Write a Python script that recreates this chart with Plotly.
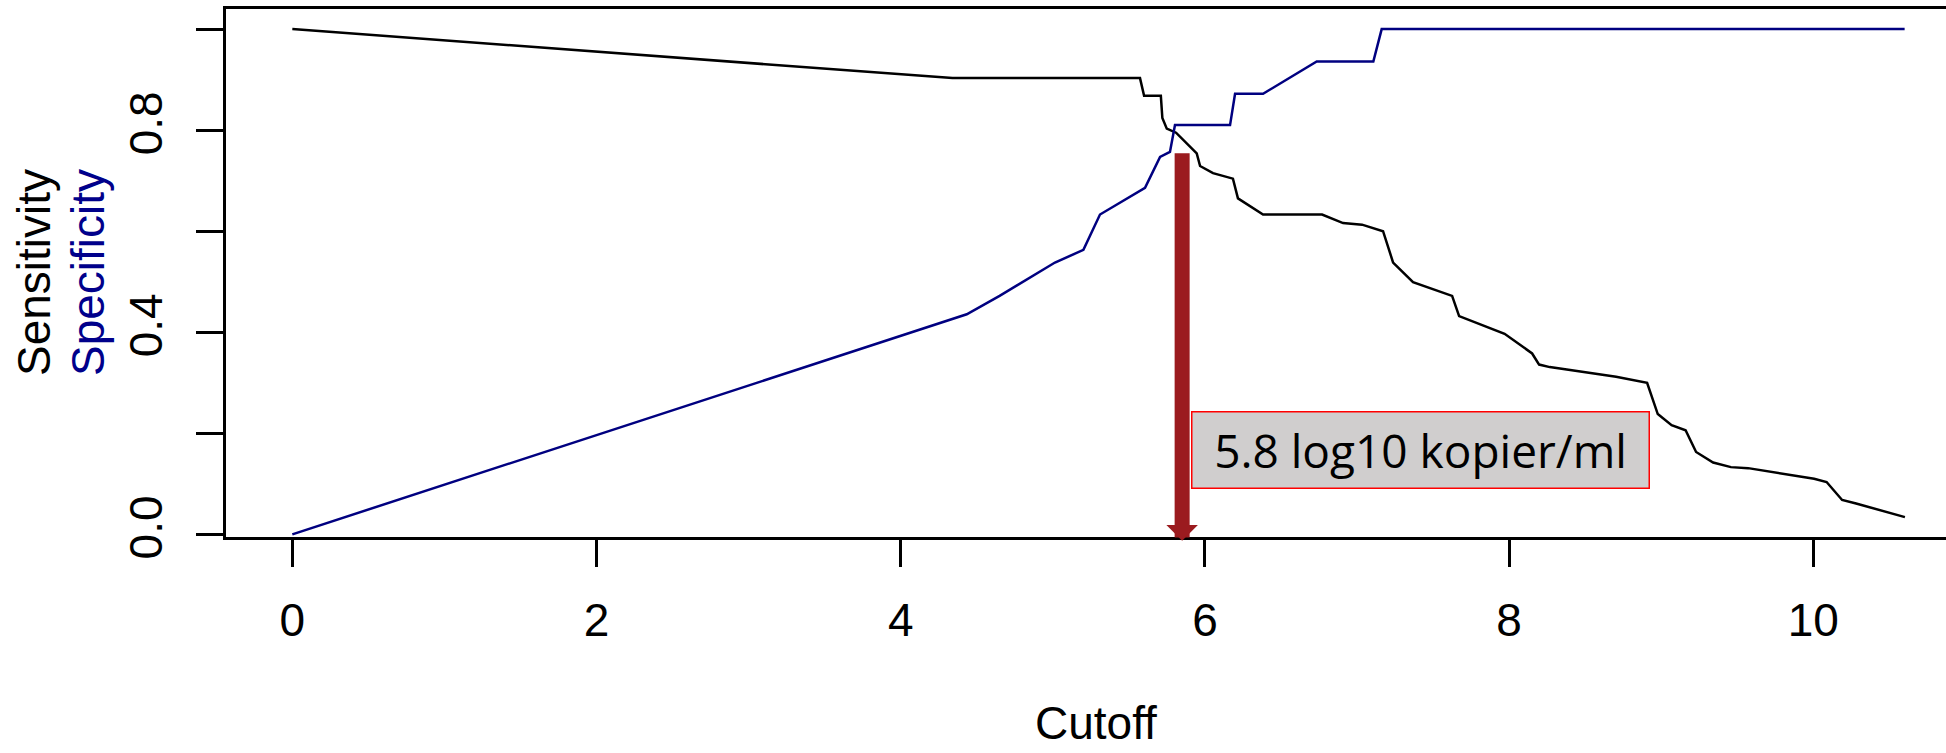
import plotly.graph_objects as go

# ---- data ----
sens_x = [0, 4.34, 5.573, 5.60, 5.71, 5.72, 5.749, 5.81, 5.946, 5.968, 6.053, 6.184, 6.217,
          6.382, 6.770, 6.908, 7.033, 7.171, 7.237, 7.368, 7.625, 7.671, 7.970, 8.151, 8.197,
          8.267, 8.703, 8.907, 8.977, 9.068, 9.160, 9.229, 9.341, 9.458, 9.571, 10.005, 10.087,
          10.189, 10.281, 10.602]
sens_y = [1.0, 0.903, 0.903, 0.868, 0.868, 0.824, 0.803, 0.795, 0.754, 0.729, 0.715, 0.704, 0.665,
          0.633, 0.633, 0.616, 0.613, 0.600, 0.538, 0.499, 0.472, 0.432, 0.397, 0.358, 0.336,
          0.331, 0.312, 0.300, 0.238, 0.216, 0.206, 0.163, 0.142, 0.133, 0.131, 0.110, 0.1035,
          0.068, 0.061, 0.034]

spec_x = [0, 4.434, 4.65, 4.828, 5.014, 5.201, 5.310, 5.606, 5.705, 5.770, 5.803, 6.165, 6.198,
          6.382, 6.735, 7.107, 7.162, 10.60]
spec_y = [0, 0.4355, 0.472, 0.505, 0.538, 0.563, 0.633, 0.686, 0.747, 0.757, 0.810, 0.810, 0.872,
          0.872, 0.936, 0.936, 1.0, 1.0]

x_ticks = [0, 2, 4, 6, 8, 10]
y_ticks = [0.0, 0.2, 0.4, 0.6, 0.8, 1.0]
y_ticktext = ["0.0", "", "0.4", "", "0.8", ""]

cutoff_value = 5.85
arrow_top = 0.757
arrow_tip = -0.0127
label_text = "5.8 log10 kopier/ml"
label_x = 7.42
label_y = 0.166

SENS_COLOR = "black"
SPEC_COLOR = "#000080"
FONT = "Liberation Sans, Arial, sans-serif"

fig = go.Figure()
fig.add_trace(go.Scatter(x=sens_x, y=sens_y, mode="lines",
                         line=dict(color=SENS_COLOR, width=2.5), hoverinfo="skip"))
fig.add_trace(go.Scatter(x=spec_x, y=spec_y, mode="lines",
                         line=dict(color=SPEC_COLOR, width=2.5), hoverinfo="skip"))

# arrow marking the cutoff
fig.add_annotation(x=cutoff_value, y=arrow_tip, ax=cutoff_value, ay=arrow_top,
                   xref="x", yref="y", axref="x", ayref="y", text="",
                   showarrow=True, arrowhead=1, arrowsize=0.35, arrowwidth=15,
                   arrowcolor="#9B1B1F", standoff=0)

# label box
fig.add_annotation(x=label_x, y=label_y, xref="x", yref="y", text=label_text,
                   showarrow=False, font=dict(family="Open Sans, sans-serif", size=46, color="black"),
                   bgcolor="#D0CECE", bordercolor="#FF0000", borderwidth=1.5, borderpad=0,
                   width=456, height=75, align="center", valign="middle")

# x-axis title
fig.add_annotation(x=0.506, y=0, xref="paper", yref="paper", yshift=-158,
                   text="Cutoff", showarrow=False, yanchor="top",
                   font=dict(family=FONT, size=46, color="black"))

# y-axis titles (two coloured lines)
fig.add_annotation(x=0, y=0.5, xref="paper", yref="paper", xshift=-192,
                   text="Sensitivity", showarrow=False, textangle=-90,
                   xanchor="center", yanchor="middle",
                   font=dict(family=FONT, size=46, color=SENS_COLOR))
fig.add_annotation(x=0, y=0.5, xref="paper", yref="paper", xshift=-138,
                   text="Specificity", showarrow=False, textangle=-90,
                   xanchor="center", yanchor="middle",
                   font=dict(family=FONT, size=46, color="#00008B"))

fig.update_layout(
    width=1946, height=753,
    margin=dict(l=226, r=0, t=9, b=216),
    paper_bgcolor="white", plot_bgcolor="white",
    showlegend=False,
    font=dict(family=FONT, size=46, color="black"),
    xaxis=dict(range=[-0.436, 10.872], tickvals=x_ticks, ticktext=[str(v) for v in x_ticks],
               showgrid=False, zeroline=False, showline=True, linecolor="black", linewidth=3,
               mirror=True, ticks="outside", ticklen=27, tickwidth=3, tickcolor="black",
               tickfont=dict(family=FONT, size=46, color="black"), ticklabelstandoff=14),
    yaxis=dict(range=[-0.0053, 1.0398], tickvals=y_ticks, ticktext=y_ticktext,
               showgrid=False, zeroline=False, showline=True, linecolor="black", linewidth=3,
               mirror=False, ticks="outside", ticklen=27, tickwidth=3, tickcolor="black",
               tickangle=-90, tickfont=dict(family=FONT, size=46, color="black"),
               ticklabelstandoff=16),
)

fig.write_html("out.html", config={"displayModeBar": False},
               post_script="document.body.style.margin='0';document.body.style.overflow='hidden';")
